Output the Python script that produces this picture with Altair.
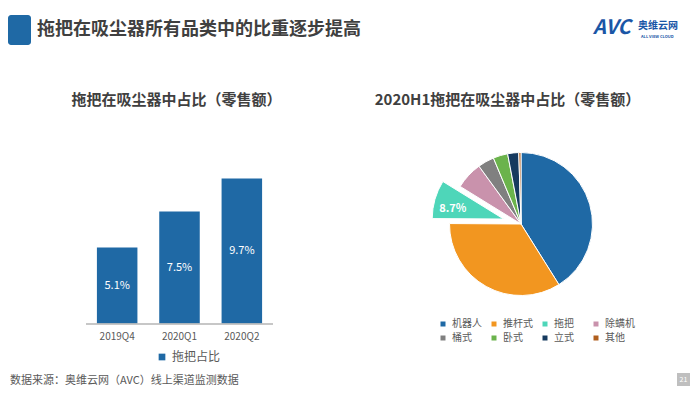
import math
import altair as alt
import pandas as pd

# ---------------- data ----------------
quarters = ["2019Q4", "2020Q1", "2020Q2"]
shares = [5.1, 7.5, 9.7]
bar_series = "拖把占比"

categories = ["机器人", "推杆式", "拖把", "除螨机", "桶式", "卧式", "立式", "其他"]
pie_values = [41.1, 34.0, 8.7, 6.2, 3.7, 3.3, 2.5, 0.5]
exploded = "拖把"

header_title = "拖把在吸尘器所有品类中的比重逐步提高"
bar_title = "拖把在吸尘器中占比（零售额）"
pie_title = "2020H1拖把在吸尘器中占比（零售额）"
footer = "数据来源：奥维云网（AVC）线上渠道监测数据"
page_no = "21"

# ---------------- style ----------------
FONT = "Noto Sans CJK SC"
BLUE = "#1F69A5"
pie_colors = ["#1F69A5", "#F29620", "#4ED6B9", "#C992AC",
              "#808080", "#6BB34C", "#163A5F", "#B05F1E"]
TXT = "#404040"
GREY = "#595959"

W, H = 684, 378
PIE_CX, PIE_CY, PIE_R = 513, 216, 71.5
EXPLODE = 18

# ---------------- tables ----------------
bar_df = pd.DataFrame({
    "quarter": quarters,
    "share": shares,
    "series": [bar_series] * len(quarters),
})
bar_df["mid"] = bar_df["share"] / 2
bar_df["label"] = [f"{v:.1f}%" for v in shares]

vals = pd.Series(pie_values)
pie_df = pd.DataFrame({
    "cat": categories,
    "value": pie_values,
    "end": vals.cumsum(),
    "start": vals.cumsum() - vals,
})
pie_df["mid"] = (pie_df["start"] + pie_df["end"]) / 2
pie_df["label"] = [f"{v:.1f}%" for v in pie_values]

mid_ex = float(pie_df.loc[pie_df["cat"] == exploded, "mid"].iloc[0])
ang = mid_ex / 100 * 2 * math.pi
EX_CX = PIE_CX + EXPLODE * math.sin(ang)
EX_CY = PIE_CY - EXPLODE * math.cos(ang)

# ---------------- bar chart ----------------
xs = alt.Scale(domain=quarters, range=[78, 265], paddingInner=0.35, paddingOuter=0.175)
ys = alt.Scale(domain=[0, 10], range=[316, 166])

bars = alt.Chart(bar_df).mark_bar().encode(
    x=alt.X("quarter:N", scale=xs, axis=None, sort=quarters),
    y=alt.Y("share:Q", scale=ys, axis=None),
    color=alt.Color("series:N",
                    scale=alt.Scale(domain=[bar_series], range=[BLUE]),
                    legend=alt.Legend(title=None, orient="none", legendX=148, legendY=343,
                                      symbolType="square", symbolSize=45, symbolStrokeWidth=0,
                                      labelFont=FONT, labelFontSize=12, labelColor=GREY,
                                      labelOffset=4, padding=0)),
)
bar_text = alt.Chart(bar_df).mark_text(color="white", font=FONT, fontSize=11,
                                       baseline="middle").encode(
    x=alt.X("quarter:N", scale=xs, axis=None, sort=quarters),
    y=alt.Y("mid:Q", scale=ys, axis=None),
    text="label:N",
)
axis_labels = alt.Chart(bar_df).mark_text(color=GREY, font=FONT, fontSize=10,
                                          baseline="middle").encode(
    x=alt.X("quarter:N", scale=xs, axis=None, sort=quarters),
    y=alt.value(329),
    text="quarter:N",
)
axis_rule = alt.Chart(bar_df).mark_rule(color="#BFBFBF", strokeWidth=1).encode(
    x=alt.value(78), x2=alt.value(265), y=alt.value(316)
)
bar_group = alt.layer(bars, bar_text, axis_labels, axis_rule)

# ---------------- pie chart ----------------
ts = alt.Scale(domain=[0, 100], range=[0, 2 * math.pi])
pie_color = alt.Color(
    "cat:N", sort=categories,
    scale=alt.Scale(domain=categories, range=pie_colors),
    legend=alt.Legend(title=None, orient="none", legendX=430, legendY=311,
                      direction="horizontal", columns=4, gridAlign="all",
                      columnPadding=7, rowPadding=4,
                      symbolType="square", symbolSize=25, symbolStrokeWidth=0,
                      labelFont=FONT, labelFontSize=10, labelColor=GREY,
                      labelOffset=4, padding=0),
)
pie_main = alt.Chart(pie_df).transform_filter(
    alt.datum.cat != exploded
).mark_arc(outerRadius=PIE_R, stroke="white", strokeWidth=1).encode(
    theta=alt.Theta("start:Q", scale=ts),
    theta2="end:Q",
    color=pie_color,
    x=alt.value(PIE_CX), y=alt.value(PIE_CY),
)
pie_ex = alt.Chart(pie_df).transform_filter(
    alt.datum.cat == exploded
).mark_arc(outerRadius=PIE_R, stroke="white", strokeWidth=1).encode(
    theta=alt.Theta("start:Q", scale=ts),
    theta2="end:Q",
    color=pie_color,
    x=alt.value(EX_CX), y=alt.value(EX_CY),
)
pie_lab = alt.Chart(pie_df).transform_filter(
    alt.datum.cat == exploded
).mark_text(radius=53, dy=5, color="white", font=FONT, fontSize=11,
            fontWeight="bold").encode(
    theta=alt.Theta("mid:Q", scale=ts),
    text="label:N",
    x=alt.value(EX_CX), y=alt.value(EX_CY),
)
pie_group = alt.layer(pie_main, pie_ex, pie_lab)

# ---------------- decorations ----------------
one = pd.DataFrame({"k": [0]})


def txt(s, x, y, size, color=TXT, weight="normal", align="left", **kw):
    return alt.Chart(one).mark_text(text=s, font=FONT, fontSize=size, color=color,
                                    fontWeight=weight, align=align,
                                    baseline="middle", **kw).encode(
        x=alt.value(x), y=alt.value(y))


def box(x1, x2, y1, y2, color, r=0):
    return alt.Chart(one).mark_rect(color=color, cornerRadius=r).encode(
        x=alt.value(x1), x2=alt.value(x2), y=alt.value(y1), y2=alt.value(y2))


decor = alt.layer(
    box(0, 23, 7, 37, BLUE, 3),
    txt(header_title, 29, 22, 18, weight="bold"),
    txt(bar_title, 168.5, 92, 15, weight="bold", align="center"),
    txt(pie_title, 499.5, 92, 15, weight="bold", align="center"),
    txt("AVC", 585, 20, 20, color="#1A56A6", weight="bold", fontStyle="italic"),
    txt("奥维云网", 630, 18, 10, color="#1A56A6", weight="bold"),
    txt("ALL VIEW CLOUD", 633, 29, 4, color="#1A56A6", weight="bold"),
    txt(footer, 2, 373, 11, color=GREY),
    box(669, 682, 365, 378, "#BFBFBF"),
    txt(page_no, 675.5, 372, 7, color="white", align="center"),
)

chart = alt.layer(bar_group, pie_group, decor).resolve_scale(
    x="independent", y="independent", color="independent", theta="independent"
).properties(
    width=W, height=H, autosize=alt.AutoSizeParams(type="none"), padding=0,
    background="white",
).configure_view(stroke=None)

chart.save("out.html", embed_options={"renderer": "svg", "actions": False})
